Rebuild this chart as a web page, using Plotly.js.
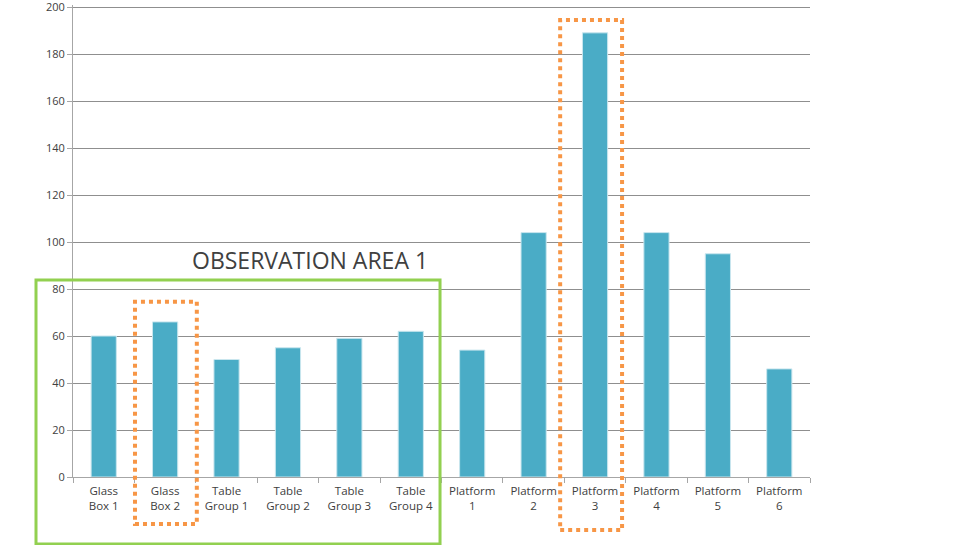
<!DOCTYPE html>
<html>
<head>
<meta charset="utf-8">
<script src="https://cdn.plot.ly/plotly-3.0.1.min.js"></script>
<style>html,body{margin:0;padding:0;background:#fff;}#chart{width:960px;height:545px;}</style>
</head>
<body>
<div id="chart"></div>
<script>
const categories = ["Glass<br>Box 1","Glass<br>Box 2","Table<br>Group 1","Table<br>Group 2","Table<br>Group 3","Table<br>Group 4","Platform<br>1","Platform<br>2","Platform<br>3","Platform<br>4","Platform<br>5","Platform<br>6"];
const values = [60, 66, 50, 55, 59, 62, 54, 104, 189, 104, 95, 46];
const yTicks = [0, 20, 40, 60, 80, 100, 120, 140, 160, 180, 200];
const annotationText = "OBSERVATION AREA 1";

const trace = {
  type: "bar",
  x: categories,
  y: values,
  width: 0.41,
  marker: {color: "#4aacc6", line: {color: "#c9e6ee", width: 1}},
  hoverinfo: "x+y"
};

// plot area: 472 px tall, bottom at y=477 px
const layout = {
  width: 960, height: 545,
  margin: {l: 73, r: 150, t: 5, b: 68},
  paper_bgcolor: "#ffffff", plot_bgcolor: "#ffffff",
  showlegend: false,
  font: {family: "Open Sans, Noto Sans, sans-serif", color: "#404040", size: 11},
  xaxis: {
    type: "category",
    showgrid: false,
    showline: true, linecolor: "#a6a6a6", linewidth: 1,
    ticks: "outside", tickson: "boundaries", ticklen: 5, tickcolor: "#a6a6a6",
    tickfont: {size: 11.5, color: "#404040"},
    ticklabelstandoff: 3,
    zeroline: false,
    fixedrange: true
  },
  yaxis: {
    range: [0, 200.85],
    tickvals: yTicks,
    showgrid: true, gridcolor: "#8f8f8f", gridwidth: 1,
    showline: true, linecolor: "#a6a6a6", linewidth: 1,
    ticks: "outside", ticklen: 5, tickcolor: "#a6a6a6",
    tickfont: {size: 11, color: "#404040"},
    ticklabeloverflow: "allow",
    zeroline: false,
    fixedrange: true
  },
  shapes: [
    {type: "rect", xref: "paper", yref: "paper", x0: -0.0502, x1: 0.498, y0: -0.1419, y1: 0.4174,
     line: {color: "#92d050", width: 3}, fillcolor: "rgba(0,0,0,0)", layer: "above"},
    {type: "rect", xref: "paper", yref: "paper", x0: 0.0841, x1: 0.168, y0: -0.0996, y1: 0.3714,
     line: {color: "#f79646", width: 4, dash: "dot"}, fillcolor: "rgba(0,0,0,0)", layer: "above"},
    {type: "rect", xref: "paper", yref: "paper", x0: 0.661, x1: 0.745, y0: -0.1123, y1: 0.9682,
     line: {color: "#f79646", width: 4, dash: "dot"}, fillcolor: "rgba(0,0,0,0)", layer: "above"}
  ],
  annotations: [
    {xref: "paper", yref: "paper", x: 0.3216, y: 0.4597, text: annotationText, showarrow: false,
     xanchor: "center", yanchor: "middle",
     font: {family: "Open Sans, Noto Sans, sans-serif", size: 23, color: "#404040"}}
  ]
};

Plotly.newPlot("chart", [trace], layout, {displayModeBar: false, staticPlot: true});
</script>
</body>
</html>
